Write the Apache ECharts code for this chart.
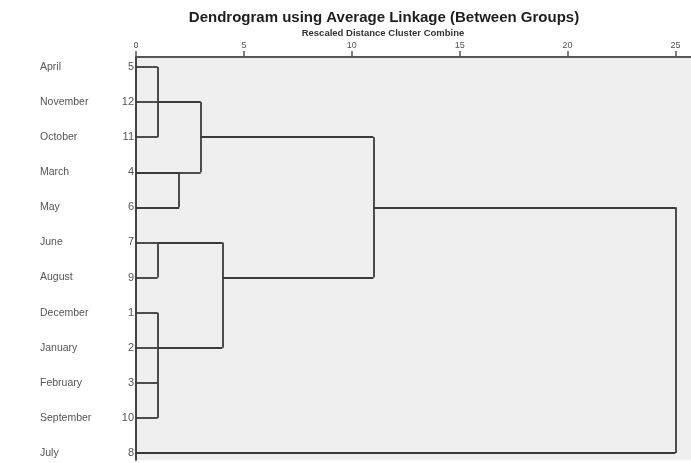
<!DOCTYPE html>
<html>
<head>
<meta charset="utf-8">
<script src="https://cdn.jsdelivr.net/npm/echarts@6/dist/echarts.min.js"></script>
<style>html,body{margin:0;padding:0;background:#fff;}#c{width:691px;height:463px;}</style>
</head>
<body>
<div id="c"></div>
<script>
// Row labels (top to bottom) and SPSS case numbers
const months = ['April','November','October','March','May','June','August','December','January','February','September','July'];
const caseNumbers = [5,12,11,4,6,7,9,1,2,3,10,8];
const xTicks = [0,5,10,15,20,25];
// Merge stages: node ids 0-11 are leaves (rows), merges get ids 12, 13, ...
const mergeChildren = [[0,1,2],[5,6],[7,8,9,10],[3,4],[12,15],[13,14],[16,17],[18,11]];
const mergeHeights = [1,1,1,2,3,4,11,25];
const mergeRows = [1,5,8,3,2,6,4,4];

const nodeRow = months.map((m,i)=>i);
const nodeH = months.map(()=>0);
const segs = [];
mergeChildren.forEach((ch,k)=>{
  const h = mergeHeights[k];
  const rows = ch.map(c=>nodeRow[c]);
  ch.forEach(c=>{ segs.push({coords:[[nodeH[c], nodeRow[c]],[h, nodeRow[c]]]}); });
  segs.push({coords:[[h, Math.min(...rows)],[h, Math.max(...rows)]]});
  nodeRow.push(mergeRows[k]);
  nodeH.push(h);
});

const chart = echarts.init(document.getElementById('c'), null, {renderer:'canvas'});
const FF = "'Liberation Sans', Arial, sans-serif";
chart.setOption({
  animation:false,
  backgroundColor:'#ffffff',
  title:[
    {text:'Dendrogram using Average Linkage (Between Groups)', left:384, top:10, padding:0, textAlign:'center',
     textStyle:{fontFamily:FF, fontSize:15, fontWeight:'bold', color:'#1e1e1e'}},
    {text:'Rescaled Distance Cluster Combine', left:383, top:28, padding:0, textAlign:'center',
     textStyle:{fontFamily:FF, fontSize:9.5, fontWeight:'bold', color:'#333'}}
  ],
  grid:{left:136, top:57, right:0, bottom:3, show:true, backgroundColor:'#efefef', borderWidth:0},
  xAxis:{type:'value', position:'top', min:0, max:25.72,
    axisLine:{show:true, onZero:false, lineStyle:{color:'#555', width:2}},
    axisTick:{show:true, customValues:xTicks, length:6, lineStyle:{color:'#555', width:1.5}},
    axisLabel:{customValues:xTicks, fontFamily:FF, fontSize:9, color:'#555', margin:7},
    splitLine:{show:false}},
  yAxis:{type:'value', inverse:true, min:-0.285, max:11.2,
    axisLine:{show:true, onZero:false, lineStyle:{color:'#444', width:2}},
    axisTick:{show:false},
    splitLine:{show:false},
    axisLabel:{customValues:months.map((m,i)=>i), margin:2,
      formatter:v=>'{m|'+months[v]+'}{n|'+caseNumbers[v]+'}',
      rich:{m:{width:78, align:'left', fontFamily:FF, fontSize:10.5, color:'#555'},
            n:{width:16, align:'right', fontFamily:FF, fontSize:11, color:'#555'}}}},
  series:[{type:'lines', coordinateSystem:'cartesian2d', polyline:false, silent:true,
    lineStyle:{color:'#3a3a3a', width:1.8, opacity:1}, data:segs}]
});
</script>
</body>
</html>
